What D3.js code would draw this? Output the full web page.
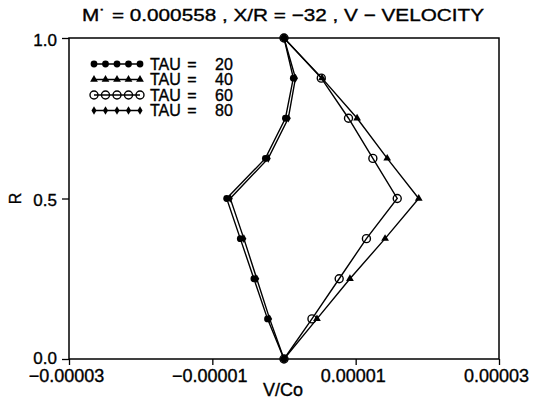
<!DOCTYPE html>
<html>
<head>
<meta charset="utf-8">
<script src="https://cdn.jsdelivr.net/npm/d3@7"></script>
<style>
  html, body { margin: 0; padding: 0; background: #fff; }
  svg { display: block; }
  text { font-family: Arial, "Liberation Sans", Helvetica, sans-serif; fill: #000; stroke: #000; stroke-width: 0.35px; }
</style>
</head>
<body>
<svg id="chart" width="536" height="400"></svg>
<script>
// Radial positions (R) at which the velocity profiles are sampled
const rValues = [0, 0.125, 0.25, 0.375, 0.5, 0.625, 0.75, 0.875, 1.0];

// V/Co profiles for each time step
const tau20 = [0, -2.3e-6, -4.2e-6, -6.1e-6, -8.0e-6, -2.6e-6, 0.2e-6, 1.3e-6, 0];
const tau40 = [0, 4.6e-6, 9.2e-6, 14.1e-6, 18.8e-6, 14.4e-6, 10.2e-6, 5.3e-6, 0];
const tau60 = [0, 3.9e-6, 7.7e-6, 11.5e-6, 15.8e-6, 12.4e-6, 9.0e-6, 5.2e-6, 0];
const tau80 = [0, -2.0e-6, -3.8e-6, -5.6e-6, -7.5e-6, -2.2e-6, 0.6e-6, 1.6e-6, 0];

const seriesNames = ["TAU", "TAU", "TAU", "TAU"];
const seriesTau = ["20", "40", "60", "80"];
const seriesMarkers = ["dot", "triangle", "ring", "smalldot"];

const xTicks = [-3e-5, -1e-5, 1e-5, 3e-5];
const xTickLabels = ["\u22120.00003", "\u22120.00001", "0.00001", "0.00003"];
const yTicks = [0, 0.5, 1.0];
const yTickLabels = ["0.0", "0.5", "1.0"];

const titleText = "M\u02D9 = 0.000558 , X/R = \u221232 , V \u2212 VELOCITY";
const xLabel = "V/Co";
const yLabel = "R";

const series = [tau20, tau40, tau60, tau80].map((vals, i) => ({
  name: seriesNames[i], tau: seriesTau[i], marker: seriesMarkers[i],
  points: vals.map((v, j) => ({ v, r: rValues[j] }))
}));

const svg = d3.select("#chart");
const margin = { left: 69, right: 37, top: 38, bottom: 41 };
const W = 536, H = 400;

const x = d3.scaleLinear().domain([-3e-5, 3e-5]).range([margin.left, W - margin.right]);
const y = d3.scaleLinear().domain([0, 1]).range([H - margin.bottom, margin.top]);

// Title
svg.append("text")
  .attr("x", 283).attr("y", 21)
  .attr("text-anchor", "middle")
  .attr("font-size", 17)
  .attr("textLength", 402).attr("lengthAdjust", "spacingAndGlyphs")
  .text(titleText);

// Frame
svg.append("rect")
  .attr("x", x.range()[0]).attr("y", y.range()[1])
  .attr("width", x.range()[1] - x.range()[0])
  .attr("height", y.range()[0] - y.range()[1])
  .attr("fill", "none").attr("stroke", "#000").attr("stroke-width", 1.5);

// Bottom axis
const xAxis = d3.axisBottom(x)
  .tickValues(xTicks)
  .tickFormat((d, i) => xTickLabels[i])
  .tickSize(6).tickSizeOuter(0).tickPadding(3);
const gx = svg.append("g")
  .attr("transform", `translate(0,${y(0)})`)
  .call(xAxis);
gx.select(".domain").remove();
gx.selectAll(".tick line").attr("stroke", "#000").attr("stroke-width", 1.3);
gx.selectAll(".tick text")
  .attr("font-size", 18).attr("font-family", null)
  .attr("dx", -3).attr("dy", "0.75em").attr("fill", "#000");

// Left axis
const yAxis = d3.axisLeft(y)
  .tickValues(yTicks)
  .tickFormat((d, i) => yTickLabels[i])
  .tickSize(7).tickSizeOuter(0).tickPadding(5);
const gy = svg.append("g")
  .attr("transform", `translate(${x(-3e-5)},0)`)
  .call(yAxis);
gy.select(".domain").remove();
gy.selectAll(".tick line").attr("stroke", "#000").attr("stroke-width", 1.3);
gy.selectAll(".tick text")
  .attr("font-size", 17).attr("font-family", null)
  .attr("dy", d => d === 0 ? "0.28em" : "0.42em").attr("fill", "#000");

// Axis titles
svg.append("text")
  .attr("x", 283).attr("y", 396)
  .attr("text-anchor", "middle").attr("font-size", 18)
  .text(xLabel);
svg.append("text")
  .attr("transform", `translate(21,${y(0.5)}) rotate(-90)`)
  .attr("text-anchor", "middle").attr("font-size", 16)
  .text(yLabel);

// Marker drawing
function drawMarker(g, type, cx, cy) {
  if (type === "dot") {
    g.append("circle").attr("cx", cx).attr("cy", cy).attr("r", 3.4).attr("fill", "#000");
  } else if (type === "smalldot") {
    g.append("path")
      .attr("d", d3.symbol(d3.symbolDiamond, 22)())
      .attr("transform", `translate(${cx},${cy})`).attr("fill", "#000");
  } else if (type === "triangle") {
    g.append("path")
      .attr("d", d3.symbol(d3.symbolTriangle, 26)())
      .attr("transform", `translate(${cx},${cy})`).attr("fill", "#000");
  } else if (type === "ring") {
    g.append("circle").attr("cx", cx).attr("cy", cy).attr("r", 4)
      .attr("fill", "none").attr("stroke", "#000").attr("stroke-width", 1.4);
  }
}

const line = d3.line().x(d => x(d.v)).y(d => y(d.r));

const plot = svg.append("g");
series.forEach(s => {
  plot.append("path")
    .datum(s.points)
    .attr("d", line)
    .attr("fill", "none").attr("stroke", "#000").attr("stroke-width", 1.4);
});
series.forEach(s => {
  const g = plot.append("g");
  s.points.forEach(p => drawMarker(g, s.marker, x(p.v), y(p.r)));
});

// Legend
const legend = svg.append("g");
const legendX0 = 94, legendX1 = 140, legendY0 = 64, legendStep = 15.5;
series.forEach((s, i) => {
  const ly = legendY0 + i * legendStep;
  const g = legend.append("g");
  g.append("line")
    .attr("x1", legendX0).attr("x2", legendX1).attr("y1", ly).attr("y2", ly)
    .attr("stroke", "#000").attr("stroke-width", 1.4);
  d3.range(5).forEach(k => drawMarker(g, s.marker, legendX0 + k * (legendX1 - legendX0) / 4, ly));
  g.append("text").attr("x", 150).attr("y", ly + 5.5).attr("font-size", 16).text(s.name);
  g.append("text").attr("x", 192).attr("y", ly + 5.5).attr("font-size", 16)
    .attr("text-anchor", "middle").text("=");
  g.append("text").attr("x", 215).attr("y", ly + 5.5).attr("font-size", 16).text(s.tau);
});
</script>
</body>
</html>
